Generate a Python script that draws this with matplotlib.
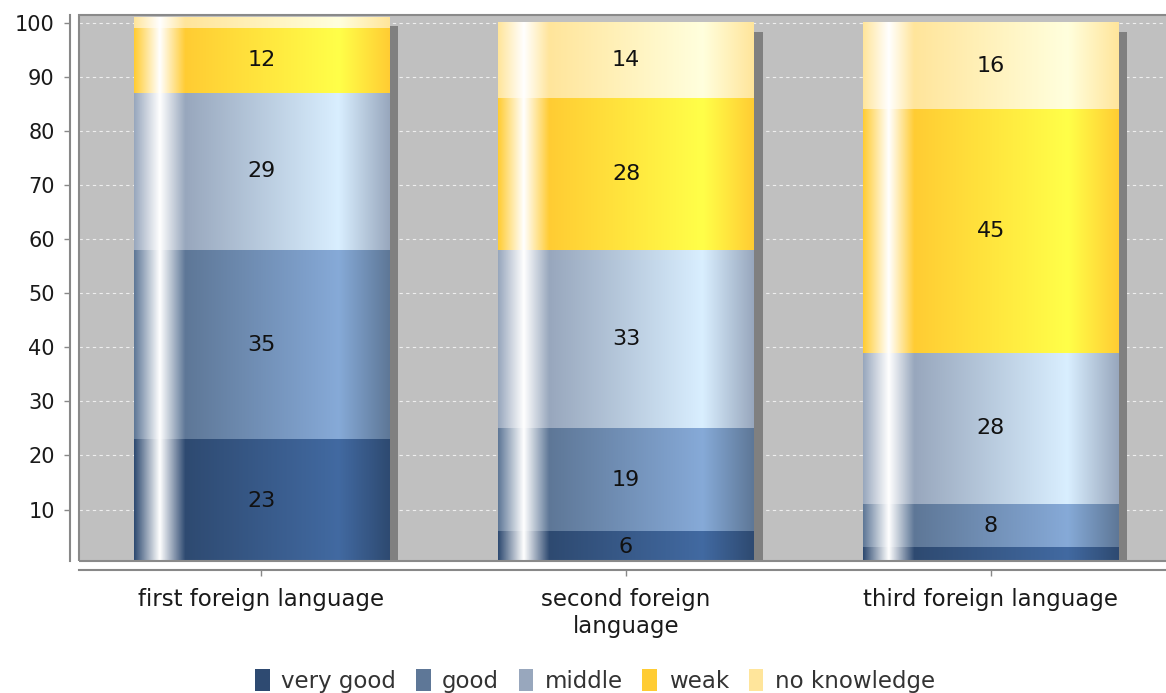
import numpy as np
import matplotlib
matplotlib.use("Agg")
import matplotlib.pyplot as plt
from matplotlib.transforms import offset_copy
from matplotlib.patches import Rectangle, Patch

# ---- data ----
categories = ["first foreign language", "second foreign\nlanguage", "third foreign language"]
series_names = ["very good", "good", "middle", "weak", "no knowledge"]
very_good = [23, 6, 3]
good = [35, 19, 8]
middle = [29, 33, 28]
weak = [12, 28, 45]
no_knowledge = [2, 14, 16]
y_ticks = [10, 20, 30, 40, 50, 60, 70, 80, 90, 100]

series_values = [very_good, good, middle, weak, no_knowledge]
colors = ["#2E4A71", "#5E7797", "#98A7BD", "#FFCC33", "#FFE59B"]

W, H = 1166, 693
fig = plt.figure(figsize=(W / 100, H / 100), dpi=100)
left_px, right_px, top_px, bot_px = 79, 1173, 15, 561
ax = fig.add_axes([left_px / W, (H - bot_px) / H, (right_px - left_px) / W, (bot_px - top_px) / H])
ax.set_facecolor("#C0C0C0")

x = np.arange(len(categories))
width = 0.7
totals = np.sum(np.array(series_values), axis=0)

# shadow
shadow_tr = offset_copy(ax.transData, fig=fig, x=9, y=-9, units="dots")
ax.bar(x, totals, width, color="#808080", transform=shadow_tr, zorder=1, linewidth=0)


def brighter(rgb):
    out = []
    for c in rgb:
        c = c * 255
        if 0 < c < 3:
            c = 3
        out.append(min(c / 0.7, 255) / 255)
    return np.array(out)


def gradient(rgb, n=400):
    c0 = np.array(rgb)
    c1 = brighter(c0)
    white = np.ones(3)
    t = np.linspace(0, 1, n)
    img = np.zeros((1, n, 3))
    for i, tt in enumerate(t):
        if tt < 0.1:
            f = tt / 0.1
            col = c0 + (white - c0) * f
        elif tt < 0.2:
            f = (tt - 0.1) / 0.1
            col = white + (c0 - white) * f
        elif tt < 0.8:
            f = (tt - 0.2) / 0.6
            col = c0 + (c1 - c0) * f
        else:
            f = (tt - 0.8) / 0.2
            col = c1 + (c0 - c1) * f
        img[0, i] = col
    return img


bottoms = np.zeros(len(categories))
for name, vals, col in zip(series_names, series_values, colors):
    bars = ax.bar(x, vals, width, bottom=bottoms, color=col, zorder=2, linewidth=0, label=name)
    rgb = matplotlib.colors.to_rgb(col)
    img = gradient(rgb)
    for b, v, bt in zip(bars, vals, bottoms):
        x0, y0 = b.get_x(), b.get_y()
        ax.imshow(img, extent=[x0, x0 + b.get_width(), y0, y0 + b.get_height()],
                  aspect="auto", zorder=2.5, interpolation="bilinear")
        if v >= 5:
            ax.text(b.get_x() + b.get_width() / 2, bt + v / 2, str(v), ha="center", va="center",
                    fontsize=16, color="#111111", zorder=4)
    bottoms = bottoms + np.array(vals)

ax.set_xlim(-0.5, len(categories) - 0.5)
ax.set_ylim(0.5, 101.4)
ax.set_yticks(y_ticks)
ax.set_xticks(x)
ax.set_xticklabels(categories, linespacing=1.2)
ax.yaxis.grid(True, color="#EEEEEE", linestyle=(0, (3, 3)), linewidth=0.8, zorder=0)
ax.set_axisbelow(True)

for s in ["top", "right"]:
    ax.spines[s].set_visible(False)
ax.spines["left"].set_position(("outward", 6.5))
ax.spines["bottom"].set_position(("outward", 6.5))
for s in ["left", "bottom"]:
    ax.spines[s].set_color("#888888")
    ax.spines[s].set_linewidth(1.5)
ax.tick_params(axis="y", direction="out", length=4, width=1, color="#888888", pad=7,
               labelsize=15, labelcolor="#1a1a1a")
ax.tick_params(axis="x", direction="out", length=4, width=1, color="#888888", pad=9,
               labelsize=16.5, labelcolor="#1a1a1a")

ax.add_patch(Rectangle((0, 0), 1, 1, transform=ax.transAxes, fill=False,
                       edgecolor="#8A8A8A", linewidth=1.5, zorder=6, clip_on=False))

handles = [Patch(facecolor=c, edgecolor="none") for c in colors]
fig.legend(handles, series_names, loc="center", ncol=5, frameon=False,
           bbox_to_anchor=(595 / W, 1 - 681 / H), bbox_transform=fig.transFigure,
           fontsize=16.5, handlelength=0.65, handleheight=1.1, handletextpad=0.5,
           columnspacing=0.85, labelcolor="#333333")

fig.savefig("out.png", dpi=100)
